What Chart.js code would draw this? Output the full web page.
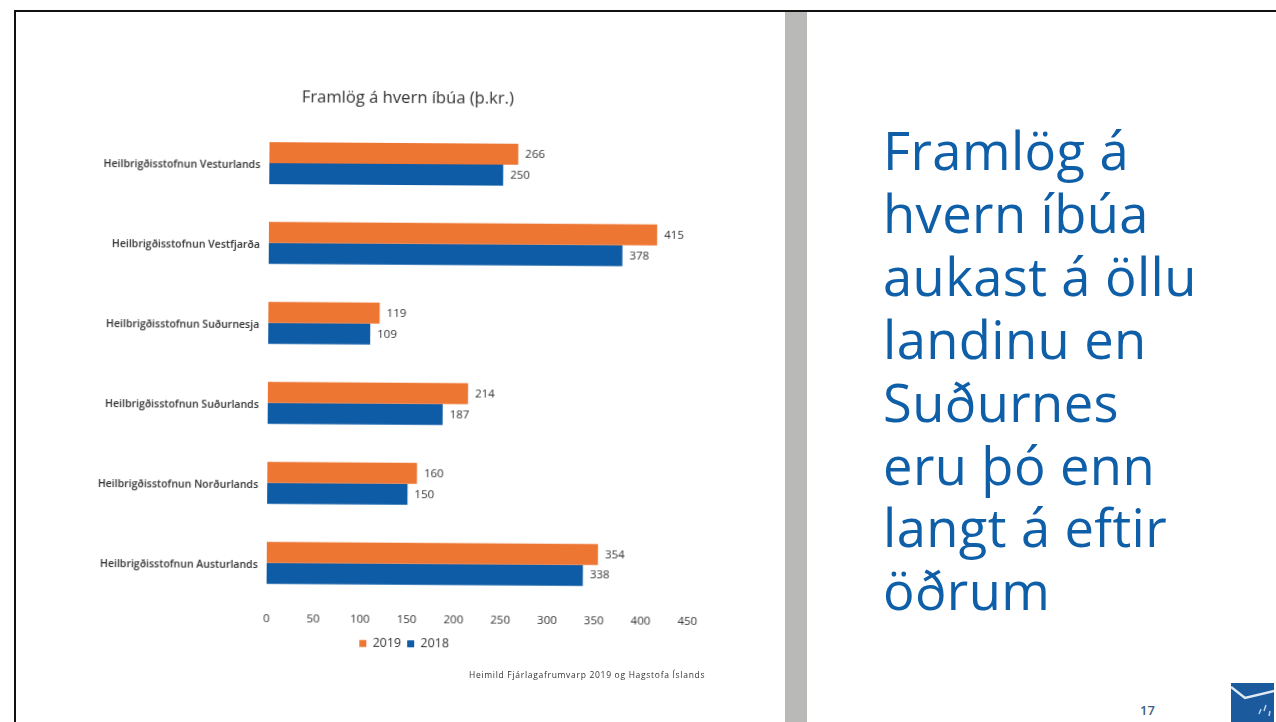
<!DOCTYPE html>
<html>
<head>
<meta charset="utf-8">
<title>Framlög á hvern íbúa</title>
<script src="https://cdn.jsdelivr.net/npm/chart.js@4/dist/chart.umd.min.js"></script>
<style>
html, body { margin: 0; padding: 0; background: #fff; }
body { width: 1276px; height: 722px; overflow: hidden; position: relative; font-family: "Open Sans", sans-serif; }
#frameTop { position: absolute; left: 14px; top: 10px; width: 1262px; height: 2px; background: #111; }
#frameLeft { position: absolute; left: 14px; top: 10px; width: 2px; height: 712px; background: #111; }
#band { position: absolute; left: 785px; top: 12px; width: 22px; height: 710px; background: #b9bab8; }
#chartBox { position: absolute; left: 20px; top: 70px; width: 760px; height: 600px; transform: rotate(0.38deg); }
#source { position: absolute; left: 469px; top: 669px; font-size: 8.5px; letter-spacing: 0.7px; color: #333; white-space: nowrap; }
#headline { position: absolute; left: 883px; top: 119px; font-size: 52.5px; line-height: 62.9px; letter-spacing: 0.4px; color: #0f5fa8; white-space: pre; }
#pageNo { position: absolute; left: 1140px; top: 701px; font-size: 13px; font-weight: 600; color: #3f5f80; }
#logo { position: absolute; left: 1231px; top: 683px; }
</style>
</head>
<body>
<div id="frameTop"></div>
<div id="frameLeft"></div>
<div id="band"></div>
<div id="chartBox"><canvas id="chart" width="760" height="600"></canvas></div>
<div id="source">Heimild  Fjárlagafrumvarp 2019 og Hagstofa Íslands</div>
<div id="headline"></div>
<div id="pageNo">17</div>
<svg id="logo" width="43" height="39" viewBox="0 0 43 39">
  <rect width="43" height="39" fill="#1c5a9e"/>
  <path d="M0 4 L14 15 L43 8" fill="none" stroke="#dfeaf5" stroke-width="2.5"/>
  <path d="M30 26 l-2 5 M35 22 l-2 6 M39 28 l-1 5" stroke="#bcd3ea" stroke-width="1.5"/>
</svg>

<script>
const categories = [
    "Heilbrigðisstofnun Vesturlands",
    "Heilbrigðisstofnun Vestfjarða",
    "Heilbrigðisstofnun Suðurnesja",
    "Heilbrigðisstofnun Suðurlands",
    "Heilbrigðisstofnun Norðurlands",
    "Heilbrigðisstofnun Austurlands"
];
const values2019 = [266, 415, 119, 214, 160, 354];
const values2018 = [250, 378, 109, 187, 150, 338];
const headlineLines = ["Framlög á", "hvern íbúa", "aukast á öllu", "landinu en", "Suðurnes", "eru þó enn", "langt á eftir", "öðrum"];

document.getElementById("headline").textContent = headlineLines.join("\n");

const valueLabels = {
    id: "valueLabels",
    // the y labels run wider than the left padding, so open up the clip area
    afterLayout(chart) {
        chart.scales.y.left = 0;
    },
    afterDatasetsDraw(chart) {
        const ctx = chart.ctx;
        ctx.save();
        ctx.font = "11.5px 'Open Sans'";
        ctx.fillStyle = "#333";
        ctx.textBaseline = "middle";
        chart.data.datasets.forEach((ds, i) => {
            chart.getDatasetMeta(i).data.forEach((bar, j) => {
                ctx.fillText(ds.data[j], bar.x + 7, bar.y);
            });
        });
        ctx.restore();
    }
};

new Chart(document.getElementById("chart"), {
    type: "bar",
    data: {
        labels: categories,
        datasets: [
            { label: "2019", data: values2019, backgroundColor: "#ed7632" },
            { label: "2018", data: values2018, backgroundColor: "#0f5ca6" }
        ]
    },
    options: {
        indexAxis: "y",
        responsive: false,
        animation: false,
        layout: { padding: { left: 103, right: 91, top: 18, bottom: 10 } },
        datasets: { bar: { categoryPercentage: 0.525, barPercentage: 1 } },
        scales: {
            x: {
                min: 0,
                max: 450,
                afterFit(scale) { scale.height += 4; },
                ticks: { stepSize: 50, color: "#333", font: { size: 11.5, family: "Open Sans" }, padding: 1, maxRotation: 0 },
                grid: { display: false },
                border: { display: false }
            },
            y: {
                afterFit(scale) { scale.width = 145; },
                ticks: { color: "#333", font: { size: 10.5, family: "Open Sans", weight: "600" }, padding: 1, labelOffset: 2 },
                grid: { display: false },
                border: { display: false }
            }
        },
        plugins: {
            title: {
                display: true,
                text: "Framlög á hvern íbúa (þ.kr.)",
                color: "#333",
                font: { size: 16.6, family: "Open Sans", weight: "normal" },
                padding: { top: 0, bottom: 16 }
            },
            legend: {
                position: "bottom",
                labels: { boxWidth: 7, boxHeight: 7, padding: 6, color: "#333", font: { size: 12.5, family: "Open Sans" } }
            },
            tooltip: { enabled: false }
        }
    },
    plugins: [valueLabels]
});
</script>
</body>
</html>
